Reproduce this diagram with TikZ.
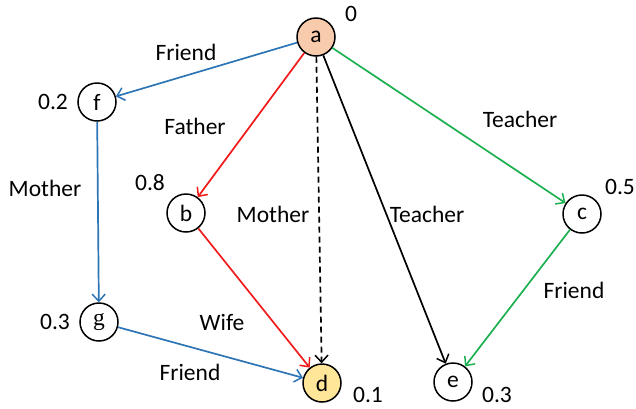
\documentclass[tikz,border=0pt]{standalone}
\usepackage{fontspec}
\setmainfont{Carlito}
\newfontfamily\serifletter{Liberation Serif}
\usetikzlibrary{arrows.meta}
\definecolor{eblue}{HTML}{2E75B6}
\definecolor{ered}{HTML}{F01818}
\definecolor{egreen}{HTML}{1DB050}
\definecolor{salmon}{HTML}{F8CBAD}
\definecolor{gold}{HTML}{FFE699}
\tikzset{
  vertex/.style={circle, draw=black, line width=1.5pt, minimum size=38pt, inner sep=0pt, font=\fontsize{23.5}{27}\selectfont},
  weight/.style={font=\fontsize{23.5}{27}\selectfont, inner sep=0pt},
  rel/.style={font=\fontsize{23.5}{27}\selectfont, inner sep=0pt},
  link/.style={line width=1.7pt, -{Straight Barb[length=7pt,width=13pt,line width=1.5pt]}},
}
\begin{document}
\begin{tikzpicture}[x=1pt, y=-1pt]
\useasboundingbox (0,0) rectangle (636,408);

% vertices
\node[vertex, fill=salmon] (a) at (316,37) {a};
\node[vertex] (f) at (97,102) {f};
\node[vertex] (b) at (186,213) {b};
\node[vertex] (c) at (582,214) {c};
\node[vertex] (g) at (99,322) {\serifletter g};
\node[vertex, fill=gold] (d) at (322,383) {d};
\node[vertex] (e) at (453,382) {e};

% vertex weights
\node[weight] (wa) at (351,14) {0};
\node[weight] (wf) at (53,102) {0.2};
\node[weight] (wb) at (150,183) {0.8};
\node[weight] (wc) at (620,187) {0.5};
\node[weight] (wg) at (55,322) {0.3};
\node[weight] (wd) at (368,395) {0.1};
\node[weight] (we) at (497,395) {0.3};

% relations
\draw[link, eblue] (a) -- (f);
\draw[link, ered] (a) -- (b);
\draw[link, black, dash pattern=on 6pt off 4pt] (a) -- (d);
\draw[link, black] (a) -- (e);
\draw[link, egreen] (a) -- (c);
\draw[link, eblue] (f) -- (g);
\draw[link, ered] (b) -- (d);
\draw[link, eblue] (g) -- (d);
\draw[link, egreen] (c) -- (e);

% relation labels
\node[rel] (l1) at (186,52) {Friend};
\node[rel] (l2) at (195,126) {Father};
\node[rel] (l3) at (273,214) {Mother};
\node[rel] (l4) at (427,214) {Teacher};
\node[rel] (l5) at (520,119) {Teacher};
\node[rel] (l6) at (45,188) {Mother};
\node[rel] (l7) at (222,322) {Wife};
\node[rel] (l8) at (190,372) {Friend};
\node[rel] (l9) at (574,290) {Friend};
\end{tikzpicture}
\end{document}
